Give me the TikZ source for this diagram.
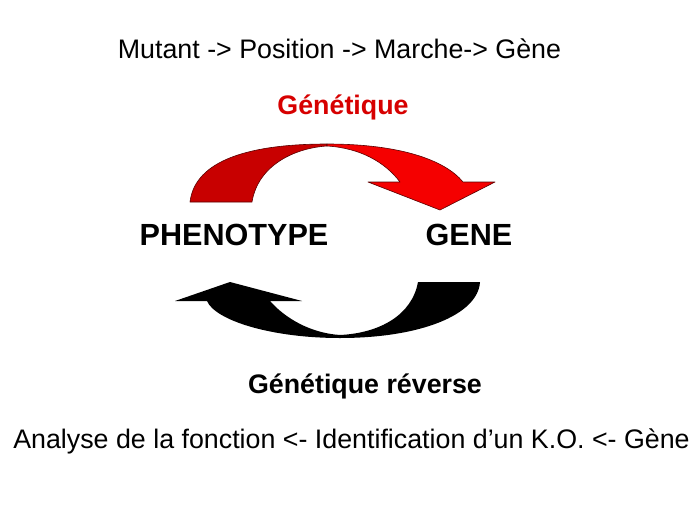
\documentclass[tikz,border=0pt]{standalone}
\usepackage{fontspec}
\setmainfont{Liberation Sans}
\definecolor{gred}{RGB}{215,0,0}
\definecolor{darkred}{RGB}{200,0,0}
\definecolor{brightred}{RGB}{245,0,0}
\definecolor{redline}{RGB}{90,0,0}
\tikzset{
  txt/.style={inner sep=0pt, anchor=base, font=\fontsize{26.8}{32}\selectfont},
  bigtxt/.style={inner sep=0pt, anchor=base, font=\fontsize{30.6}{36}\selectfont\bfseries},
  redhalf/.style={draw=redline, line width=0.6pt, line join=round},
}
\begin{document}
\begin{tikzpicture}[x=1pt,y=-1pt]
\useasboundingbox (0,0) rectangle (689,517);
\fill[white] (0,0) rectangle (689,517);

% texts
\node[txt] (top) at (339.5,58) {Mutant -> Position -> Marche-> Gène};
\node[txt, font=\fontsize{26.8}{32}\selectfont\bfseries, text=gred] (gen) at (343,114) {Génétique};
\node[bigtxt] (pheno) at (234,245) {PHENOTYPE};
\node[bigtxt] (gene) at (469,245) {GENE};
\node[txt, font=\fontsize{26.8}{32}\selectfont\bfseries] (genrev) at (365,393) {Génétique réverse};
\node[txt] (bottom) at (351.5,448) {Analyse de la fonction <- Identification d’un K.O. <- Gène};

% red curved arrow (left, darker half)
\filldraw[redhalf, fill=darkred]
  (190,202) .. controls (195,160) and (250,144) .. (327,144)
  -- (327,146) .. controls (295,148) and (258,165) .. (252,202) -- cycle;
% red curved arrow (right, brighter half with head)
\filldraw[redhalf, fill=brightred]
  (327,144) .. controls (400,144) and (445,160) .. (463,182)
  -- (495,182) -- (440,210) -- (368,182) -- (400,182)
  .. controls (385,162) and (360,148) .. (327,146) -- cycle;

% black curved arrow
\fill[black]
  (175,301) -- (230,282) -- (302,301) -- (270,301)
  .. controls (285,318) and (310,333) .. (340,335)
  .. controls (380,333) and (412,315) .. (418,282)
  -- (480,282)
  .. controls (478,315) and (420,338) .. (340,338)
  .. controls (270,338) and (215,320) .. (207,301) -- cycle;
\end{tikzpicture}
\end{document}
